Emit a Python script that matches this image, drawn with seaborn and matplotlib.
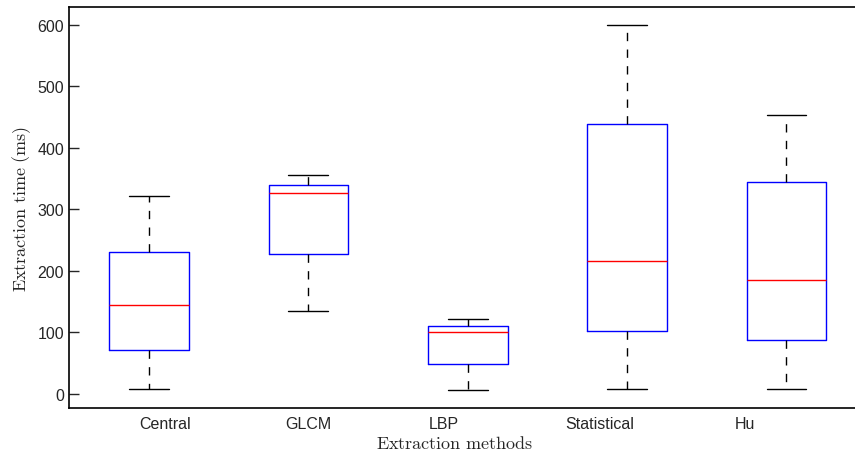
import pandas as pd
import seaborn as sns
import numpy as np
import matplotlib.pyplot as plt

# box statistics (ms)
methods = ['Central', 'GLCM', 'LBP', 'Statistical', 'Hu']
mins = [8, 134, 7, 8, 8]
q1s = [72, 228, 48, 103, 88]
medians = [144, 327, 100, 216, 185]
q3s = [230, 339, 110, 438, 345]
maxs = [321, 356, 121, 599, 454]

# five points per method reproduce min/q1/median/q3/max exactly
rows = []
for m, a, b, c, d, e in zip(methods, mins, q1s, medians, q3s, maxs):
	for v in (a, b, c, d, e):
		rows.append({'method': m, 'time': v})
df = pd.DataFrame(rows)

sns.set_style('white')
plt.rcParams['font.family'] = ['Liberation Sans', 'DejaVu Sans']
plt.rcParams['mathtext.fontset'] = 'cm'

fig = plt.figure(figsize=(8.55, 4.56), dpi=100)
ax = fig.add_axes([69/855, 47/456, 786/855, 401/456])

sns.boxplot(data=df, x='method', y='time', order=methods, ax=ax,
	width=0.5, whis=(0, 100), fill=False, color='blue', linewidth=1.0,
	boxprops={'color': 'blue'},
	medianprops={'color': 'red'},
	whiskerprops={'color': 'black', 'linestyle': (0, (6, 6))},
	capprops={'color': 'black'})

ax.set_xlim(-0.502, 4.43)
ax.set_ylim(-23, 629)
ax.set_yticks(np.arange(0, 601, 100))
# tick labels sit slightly off the box centres in the original
label_pos = [0.10, 1.0, 1.85, 2.83, 3.74]
ax.set_xticks(label_pos)
ax.set_xticklabels(methods)
ax.tick_params(axis='x', length=0, labelsize=11.5, pad=6)
ax.tick_params(axis='y', direction='in', length=7, width=1, labelsize=11.5, left=True)

for s in ['left', 'bottom', 'top']:
	ax.spines[s].set_color('black')
	ax.spines[s].set_linewidth(1.2)
ax.spines['right'].set_visible(False)

ax.set_xlabel(r'$\mathrm{Extraction\ methods}$', fontsize=13)
ax.set_ylabel(r'$\mathrm{Extraction\ time\ (ms)}$', fontsize=13, labelpad=3)
ax.xaxis.set_label_coords(0.49, -0.068)

fig.savefig('out.png', dpi=100)
